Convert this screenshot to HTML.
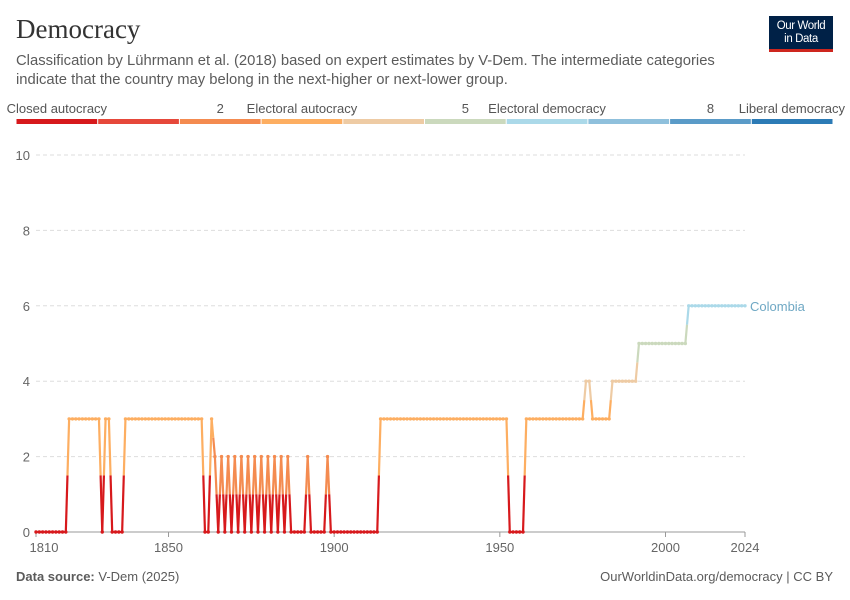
<!DOCTYPE html>
<html><head><meta charset="utf-8">
<style>
body{margin:0;width:850px;height:600px;background:#fff;font-family:"Liberation Sans",sans-serif;overflow:hidden;position:relative}
.t{position:absolute;white-space:nowrap}
</style></head><body>
<div class="t" style="left:16px;top:14px;font-family:'Liberation Serif',serif;font-size:27px;color:#333">Democracy</div>
<div class="t" style="left:16px;top:52px;font-size:14.8px;line-height:19px;color:#5b5b5b">Classification by Lührmann et al. (2018) based on expert estimates by V-Dem. The intermediate categories<br>indicate that the country may belong in the next-higher or next-lower group.</div>
<div style="position:absolute;left:769px;top:16px;width:64px;height:36px;background:#002147;border-bottom:3px solid #ce261e;box-sizing:border-box;color:#fff;font-size:11.5px;line-height:13px;text-align:center;padding-top:4px;letter-spacing:-0.4px">Our World<br>in Data</div>
<svg id="chart" width="850" height="600" style="position:absolute;left:0;top:0"></svg>
<div class="t" style="left:16px;top:569px;font-size:13px;color:#5b5b5b"><b>Data source:</b> V-Dem (2025)</div>
<div class="t" style="right:17px;top:569px;font-size:13px;color:#5b5b5b">OurWorldinData.org/democracy | CC BY</div>
<script>
const legendColors=["#d7191c","#e6483a","#f48b50","#fdae61","#eecba4","#cbd9bd","#abd9e9","#8fc0dc","#5a9bc8","#2c7bb6"];
const legendLabels=[["Closed autocracy",0],["2",2],["Electoral autocracy",3],["5",5],["Electoral democracy",6],["8",8],["Liberal democracy",9]];
const yTicks=[0,2,4,6,8,10];
const xTicks=[1810,1850,1900,1950,2000,2024];
const years=[];for(let y=1810;y<=2024;y++)years.push(y);
const values=[0,0,0,0,0,0,0,0,0,0,
3,3,3,3,3,3,3,3,3,3,
0,3,3,0,0,0,0,
3,3,3,3,3,3,3,3,3,3,3,3,3,3,3,3,3,3,3,3,3,3,3,3,
0,0,3,2,
0,2,0,2,0,2,0,2,0,2,0,2,0,2,0,2,0,2,0,2,0,2,0,
0,0,0,0,2,0,0,0,0,0,2,
0,0,0,0,0,0,0,0,0,0,0,0,0,0,0,
3,3,3,3,3,3,3,3,3,3,3,3,3,3,3,3,3,3,3,3,3,3,3,3,3,3,3,3,3,3,3,3,3,3,3,3,3,3,3,
0,0,0,0,0,
3,3,3,3,3,3,3,3,3,3,3,3,3,3,3,3,3,3,
4,4,
3,3,3,3,3,3,
4,4,4,4,4,4,4,4,
5,5,5,5,5,5,5,5,5,5,5,5,5,5,5,
6,6,6,6,6,6,6,6,6,6,6,6,6,6,6,6,6,6];
const seriesName="Colombia";
const svg=document.getElementById('chart');const NS="http://www.w3.org/2000/svg";
function mk(t,a,p){const e=document.createElementNS(NS,t);for(const k in a)e.setAttribute(k,a[k]);(p||svg).appendChild(e);return e;}
const X=y=>36+(y-1810)*(745-36)/(2024-1810);
const Y=v=>532-v*(532-155)/10;
const col=v=>legendColors[Math.min(9,Math.floor(v))];
const lx0=16,lw=81.7;
legendColors.forEach((c,i)=>{const r=mk('rect',{x:lx0+i*lw+0.5,y:119,width:lw-1,height:5,fill:c});

});
legendLabels.forEach(([t,i])=>{let cx=lx0+(i+0.5)*lw;const e=mk('text',{x:cx,y:113,'text-anchor':'middle','font-size':13,fill:'#555'});
if(i===9){e.setAttribute('x',845);e.setAttribute('text-anchor','end');}
e.textContent=t;

});
yTicks.forEach(v=>{if(v>0){const g=mk('line',{x1:36,x2:745,y1:Y(v),y2:Y(v),stroke:'#ddd','stroke-dasharray':'4,3'});

}
const t=mk('text',{x:30,y:Y(v)+5,'text-anchor':'end','font-size':13,fill:'#666'});t.textContent=v;

});
const ax=mk('line',{x1:36,x2:745,y1:532,y2:532,stroke:'#999'});


xTicks.forEach(y=>{mk('line',{x1:X(y),x2:X(y),y1:532,y2:537,stroke:'#999'});
let x=X(y);if(y===1810)x+=8;
const t=mk('text',{x:x,y:552,'text-anchor':'middle','font-size':13,fill:'#666'});t.textContent=y;

});
for(let i=0;i<years.length-1;i++){const x1=X(years[i]),y1=Y(values[i]),x2=X(years[i+1]),y2=Y(values[i+1]);
const mx=(x1+x2)/2,my=(y1+y2)/2;
const a=mk('line',{x1:x1,y1:y1,x2:mx,y2:my,stroke:col(values[i]),'stroke-width':2.2});


const b=mk('line',{x1:mx,y1:my,x2:x2,y2:y2,stroke:col(values[i+1]),'stroke-width':2.2});

}
years.forEach((y,i)=>{const p=mk('circle',{cx:X(y),cy:Y(values[i]),r:1.7,fill:col(values[i])});

});
const last=values.length-1;
const lab=mk('text',{x:750,y:Y(values[last])+5,'font-size':13,fill:'#6fa8c4'});lab.textContent=seriesName;


</script>
</body></html>
